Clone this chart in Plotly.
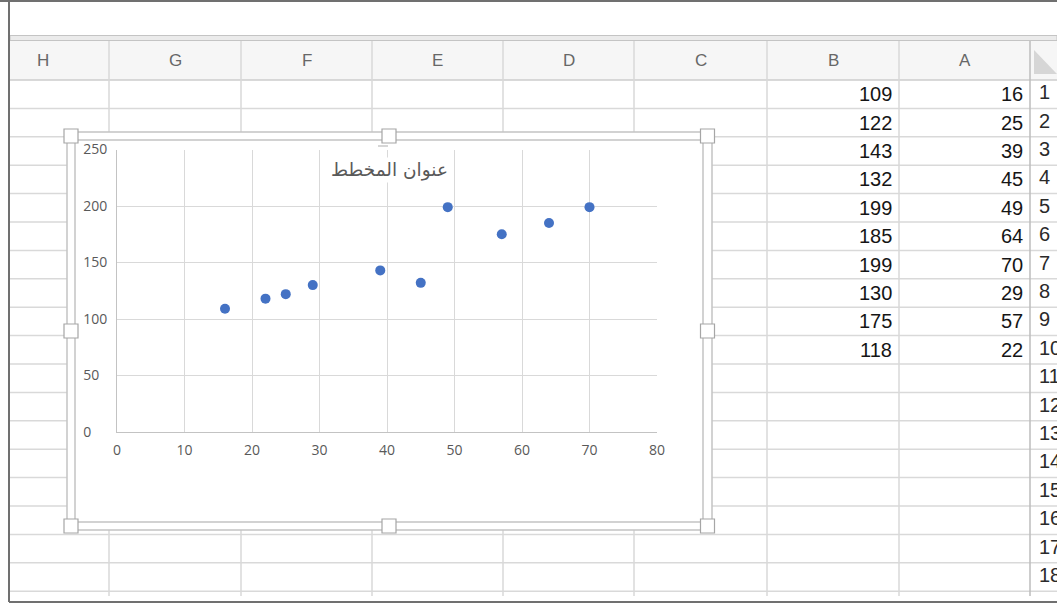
import plotly.graph_objects as go

W, H = 1057, 607

# ---------------- data ----------------
col_a = [16, 25, 39, 45, 49, 64, 70, 29, 57, 22]
col_b = [109, 122, 143, 132, 199, 185, 199, 130, 175, 118]
column_letters = ["H", "G", "F", "E", "D", "C", "B", "A"]
row_numbers = [1, 2, 3, 4, 5, 6, 7, 8, 9, 10, 11, 12, 13, 14, 15, 16, 17, 18]
chart_title = "عنوان المخطط"
x_ticks = [0, 10, 20, 30, 40, 50, 60, 70, 80]
y_ticks = [0, 50, 100, 150, 200, 250]

# ---------------- layout geometry (pixels) ----------------
col_edges = [-23, 109, 241, 372, 503, 634, 767, 899, 1030]
row_top = 80.0
row_h = 28.4
hdr_top, hdr_bot = 41, 80
grid_bottom = 596
plot_left, plot_right, plot_top, plot_bottom = 117, 657, 149.5, 432

GRID = "#d9d9d9"


def px(x):
    return x / W


def py(y):
    return 1 - y / H


shapes = []


def rect(x0, y0, x1, y1, fill=None, line=None, lw=1.0):
    shapes.append(dict(type="rect", xref="paper", yref="paper", layer="below",
                       x0=px(x0), x1=px(x1), y0=py(y1), y1=py(y0),
                       fillcolor=fill or "rgba(0,0,0,0)",
                       line=dict(color=line or "rgba(0,0,0,0)", width=lw if line else 0)))


def hline(x0, x1, y, color, lw=1.0):
    shapes.append(dict(type="line", xref="paper", yref="paper", layer="below",
                       x0=px(x0), x1=px(x1), y0=py(y), y1=py(y),
                       line=dict(color=color, width=lw)))


def vline(x, y0, y1, color, lw=1.0):
    shapes.append(dict(type="line", xref="paper", yref="paper", layer="below",
                       x0=px(x), x1=px(x), y0=py(y0), y1=py(y1),
                       line=dict(color=color, width=lw)))


# sheet header band and double rule
rect(10, hdr_top, W, hdr_bot, fill="#f6f6f6")
rect(10, 35.5, W, 40.5, fill="#ebebeb", line="#c4c4c4", lw=1)

# sheet grid
n_rows = len(row_numbers)
for k in range(n_rows + 1):
    yk = row_top + row_h * k
    hline(10, W, yk, "#cccccc" if k == 0 else GRID, 1.5)
for xe in col_edges[1:-1]:
    vline(xe, hdr_top, grid_bottom, GRID, 1.5)
vline(col_edges[-1], hdr_top, grid_bottom, "#bdbdbd", 1.5)

# select-all corner triangle
shapes.append(dict(type="path", xref="paper", yref="paper", layer="below",
                   path="M {},{} L {},{} L {},{} Z".format(px(1034), py(50), px(1034), py(74),
                                                           px(1057), py(74)),
                   fillcolor="#d6d6d6", line=dict(width=0)))

# window frame
hline(0, W, 1, "#707070", 2)
vline(9, 0, 602, "#707070", 2)
hline(9, W, 602, "#707070", 2)

# chart object frame with handles
rect(67, 132, 712, 530, fill="white", line="#c4c4c4", lw=1.5)
rect(75, 140, 703, 522, line="#c4c4c4", lw=1.5)
hx = [71, 389, 707.5]
hy = [136, 331, 526]
for cx in hx:
    for cy in hy:
        if cx == 389 and cy == 331:
            continue
        rect(cx - 7, cy - 7, cx + 7, cy + 7, fill="white", line="#a6a6a6", lw=1.2)
hline(378, 388, 146, "#bbbbbb", 1.2)

# ---------------- sheet text ----------------
SHEET_FONT = "Liberation Sans, Arial, sans-serif"
annotations = []
for i, letter in enumerate(column_letters):
    cx = (col_edges[i] + col_edges[i + 1]) / 2
    annotations.append(dict(x=cx, y=(hdr_top + hdr_bot) / 2, xref="x2", yref="y2",
                            text=letter, showarrow=False, xanchor="center", yanchor="middle",
                            font=dict(family=SHEET_FONT, size=17, color="#676767")))

a_right = col_edges[-1] - 5
b_right = col_edges[-2] - 5
for i, (a, b) in enumerate(zip(col_a, col_b)):
    cy = row_top + row_h * (i + 0.5)
    for val, xr in ((a, a_right), (b, b_right)):
        annotations.append(dict(x=xr, y=cy, xref="x2", yref="y2", text=str(val),
                                showarrow=False, xanchor="right", yanchor="middle",
                                font=dict(family=SHEET_FONT, size=20, color="#151515")))

# chart title
annotations.append(dict(x=389, y=170, xref="x2", yref="y2", text=chart_title,
                        showarrow=False, xanchor="center", yanchor="middle",
                        bgcolor="white", borderpad=1,
                        font=dict(family="DejaVu Sans", size=18.5, color="#595959")))

# y tick labels left-aligned by padding with figure spaces
max_len = max(len(str(v)) for v in y_ticks)
y_ticktext = [str(v) + "\u2007" * (max_len - len(str(v))) for v in y_ticks]

fig = go.Figure()
fig.add_trace(go.Scatter(x=col_a, y=col_b, mode="markers",
                         marker=dict(color="#4472C4", size=10, line=dict(width=0)),
                         showlegend=False, hoverinfo="x+y"))
# row numbers, clipped at the right edge by the sheet axes
fig.add_trace(go.Scatter(x=[1039] * n_rows,
                         y=[row_top + row_h * (i + 0.5) for i in range(n_rows)],
                         text=[str(r) for r in row_numbers], mode="text",
                         textposition="middle right", cliponaxis=True,
                         textfont=dict(family=SHEET_FONT, size=20, color="#2a2a2a"),
                         xaxis="x2", yaxis="y2", showlegend=False, hoverinfo="skip"))

tickfont = dict(family="Open Sans", size=14, color="#595959")
fig.update_layout(
    width=W, height=H,
    margin=dict(l=0, r=0, t=0, b=0, pad=0, autoexpand=False),
    paper_bgcolor="white",
    plot_bgcolor="rgba(0,0,0,0)",
    showlegend=False,
    shapes=shapes,
    annotations=annotations,
    xaxis=dict(domain=[px(plot_left), px(plot_right)], range=[0, 80],
               tickvals=x_ticks, ticktext=[str(v) for v in x_ticks],
               showgrid=True, gridcolor=GRID, gridwidth=1,
               showline=True, linecolor="#c3c3c3", linewidth=1,
               zeroline=False, ticks="", ticklabelstandoff=5, automargin=False,
               tickfont=tickfont, fixedrange=True, anchor="y"),
    yaxis=dict(domain=[py(plot_bottom), py(plot_top)], range=[0, 250],
               tickvals=y_ticks, ticktext=y_ticktext,
               showgrid=True, gridcolor=GRID, gridwidth=1,
               showline=True, linecolor="#c3c3c3", linewidth=1,
               zeroline=False, ticks="", ticklabelstandoff=6, automargin=False,
               tickfont=tickfont, fixedrange=True, anchor="x"),
    xaxis2=dict(domain=[0, 1], range=[0, W], visible=False, anchor="y2",
                automargin=False, fixedrange=True),
    yaxis2=dict(domain=[0, 1], range=[H, 0], visible=False, anchor="x2",
                automargin=False, fixedrange=True),
)

fig.write_html(
    "out.html",
    config={"displayModeBar": False},
    post_script="document.body.style.margin='0';document.body.style.overflow='hidden';",
)
